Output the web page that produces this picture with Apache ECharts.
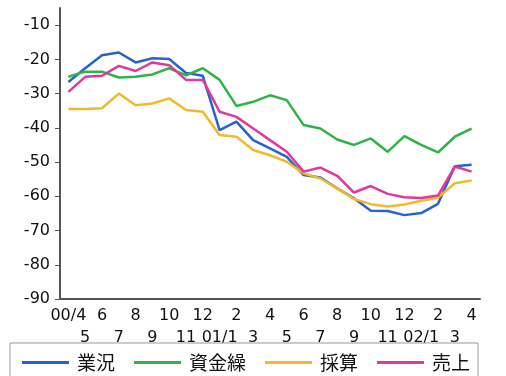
<!DOCTYPE html>
<html><head><meta charset="utf-8">
<script src="https://cdn.jsdelivr.net/npm/echarts@6/dist/echarts.min.js"></script>
<style>html,body{margin:0;padding:0;background:#fff}#c{width:506px;height:376px}</style>
</head><body><div id="c"></div>
<script>
const categories = ["00/4","5","6","7","8","9","10","11","12","01/1","2","3","4","5","6","7","8","9","10","11","12","02/1","2","3","4"];
const seriesNames = ["業況","資金繰","採算","売上"];
const gyokyo = [-26.6,-22.6,-18.8,-18,-20.9,-19.7,-19.9,-24,-24.8,-40.7,-38.2,-43.6,-46,-48.5,-53.8,-54.5,-57.7,-60.6,-64.2,-64.3,-65.5,-64.9,-62.2,-51.2,-50.8];
const shikinkuri = [-25.1,-23.6,-23.6,-25.3,-25.1,-24.4,-22.6,-24.7,-22.6,-26,-33.6,-32.4,-30.5,-31.9,-39.2,-40.2,-43.4,-45,-43.1,-47,-42.4,-45,-47.2,-42.6,-40.2];
const saisan = [-34.5,-34.5,-34.3,-30,-33.4,-32.9,-31.4,-34.8,-35.3,-42.1,-42.6,-46.5,-48,-49.9,-53.3,-54.8,-57.7,-60.8,-62.3,-63,-62.4,-61.3,-60.4,-56.2,-55.4];
const uriage = [-29.5,-25.1,-24.8,-21.9,-23.4,-20.9,-21.7,-26,-26,-35.3,-36.8,-40.2,-43.6,-47,-52.8,-51.6,-54,-58.9,-57,-59.3,-60.3,-60.5,-59.8,-51.3,-52.8];
const yTicks = [-90,-80,-70,-60,-50,-40,-30,-20,-10];
const colors = ["#2563d0","#2fb347","#f2b92a","#e0389c"];

const chart = echarts.init(document.getElementById('c'), null, {renderer:'canvas'});
const dataList = [gyokyo, shikinkuri, saisan, uriage];
chart.setOption({
  animation:false,
  color: colors,
  grid:{left:60, right:26, top:8, bottom:77, containLabel:false},
  legend:{
    left:10, top:343,
    padding:[10,8,14,12],
    borderColor:'#999', borderWidth:1,
    itemWidth:47, itemHeight:3, itemGap:19,
    icon:'rect',
    data: seriesNames,
    textStyle:{fontFamily:'"Noto Sans CJK JP"', fontSize:19, color:'#111', padding:[0,0,0,3]}
  },
  xAxis:{
    type:'category', data:categories, boundaryGap:true,
    axisLine:{lineStyle:{color:'#555', width:2}},
    axisTick:{inside:true, length:4, alignWithLabel:true, interval:0, lineStyle:{color:'#555'}},
    axisLabel:{interval:0, hideOverlap:false, margin:6, fontFamily:'"DejaVu Sans"', fontSize:16, color:'#111', lineHeight:22,
      formatter:(v,i)=> i%2===0 ? v : '\n'+v}
  },
  yAxis:{
    type:'value', min:-90, max:-5, interval:10,
    splitLine:{show:false},
    axisLine:{show:true, lineStyle:{color:'#555', width:2}},
    axisTick:{show:true, length:5, customValues:yTicks, lineStyle:{color:'#555'}},
    axisLabel:{customValues:yTicks, margin:10, fontFamily:'"DejaVu Sans"', fontSize:16, color:'#111'}
  },
  series: seriesNames.map((n,k)=>({
    name:n, type:'line', data:dataList[k], symbol:'none',
    lineStyle:{width:2.5, color:colors[k]}
  }))
});
</script></body></html>
